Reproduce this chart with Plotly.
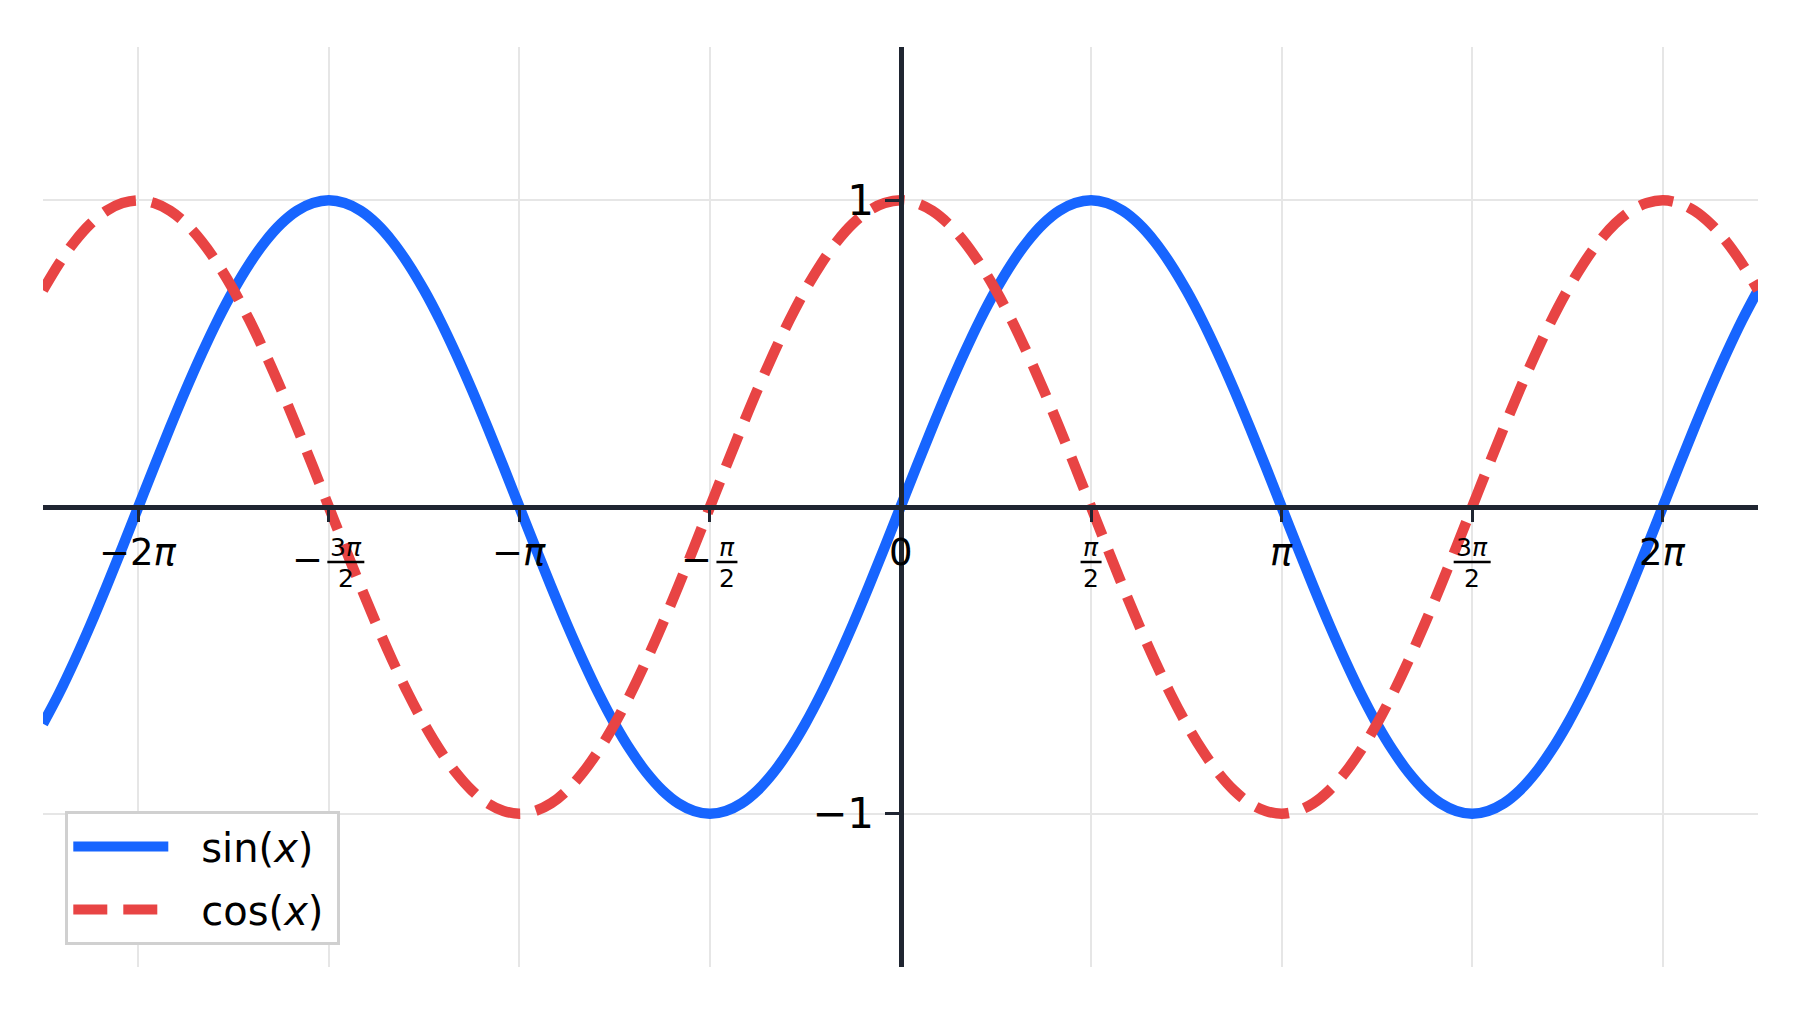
import numpy as np
import plotly.graph_objects as go

# sample positions in steps of pi/24, from -2.25pi to 2.25pi
x_steps = list(range(-54, 55))
x_vals = [k * np.pi / 24 for k in x_steps]

# values at each pi/24 step
sin_vals = [-0.707, -0.609, -0.5, -0.383, -0.259, -0.131,
            0, 0.131, 0.259, 0.383, 0.5, 0.609, 0.707, 0.793, 0.866, 0.924, 0.966, 0.991,
            1, 0.991, 0.966, 0.924, 0.866, 0.793, 0.707, 0.609, 0.5, 0.383, 0.259, 0.131,
            0, -0.131, -0.259, -0.383, -0.5, -0.609, -0.707, -0.793, -0.866, -0.924, -0.966, -0.991,
            -1, -0.991, -0.966, -0.924, -0.866, -0.793, -0.707, -0.609, -0.5, -0.383, -0.259, -0.131,
            0, 0.131, 0.259, 0.383, 0.5, 0.609, 0.707, 0.793, 0.866, 0.924, 0.966, 0.991,
            1, 0.991, 0.966, 0.924, 0.866, 0.793, 0.707, 0.609, 0.5, 0.383, 0.259, 0.131,
            0, -0.131, -0.259, -0.383, -0.5, -0.609, -0.707, -0.793, -0.866, -0.924, -0.966, -0.991,
            -1, -0.991, -0.966, -0.924, -0.866, -0.793, -0.707, -0.609, -0.5, -0.383, -0.259, -0.131,
            0, 0.131, 0.259, 0.383, 0.5, 0.609, 0.707]
cos_vals = [0.707, 0.793, 0.866, 0.924, 0.966, 0.991,
            1, 0.991, 0.966, 0.924, 0.866, 0.793, 0.707, 0.609, 0.5, 0.383, 0.259, 0.131,
            0, -0.131, -0.259, -0.383, -0.5, -0.609, -0.707, -0.793, -0.866, -0.924, -0.966, -0.991,
            -1, -0.991, -0.966, -0.924, -0.866, -0.793, -0.707, -0.609, -0.5, -0.383, -0.259, -0.131,
            0, 0.131, 0.259, 0.383, 0.5, 0.609, 0.707, 0.793, 0.866, 0.924, 0.966, 0.991,
            1, 0.991, 0.966, 0.924, 0.866, 0.793, 0.707, 0.609, 0.5, 0.383, 0.259, 0.131,
            0, -0.131, -0.259, -0.383, -0.5, -0.609, -0.707, -0.793, -0.866, -0.924, -0.966, -0.991,
            -1, -0.991, -0.966, -0.924, -0.866, -0.793, -0.707, -0.609, -0.5, -0.383, -0.259, -0.131,
            0, 0.131, 0.259, 0.383, 0.5, 0.609, 0.707, 0.793, 0.866, 0.924, 0.966, 0.991,
            1, 0.991, 0.966, 0.924, 0.866, 0.793, 0.707]

x_tick_mult = [-2, -1.5, -1, -0.5, 0, 0.5, 1, 1.5, 2]
x_tick_labels = ["−2π", "−3π/2", "−π", "−π/2", "0", "π/2", "π", "3π/2", "2π"]
y_tick_vals = [-1, 1]
y_tick_labels = ["−1", "1"]

BLUE = "#1765ff"
RED = "#e84444"
DARK = "#1f2531"
GRID = "#e6e6e6"
FONT = "DejaVu Sans"

fig = go.Figure()
fig.add_trace(go.Scatter(x=x_vals, y=sin_vals, mode="lines",
                         name="\u2002\u2009sin(<i>x</i>)\u2009",
                         legendgroup="a",
                         line=dict(color=BLUE, width=10.5, shape="spline")))
fig.add_trace(go.Scatter(x=x_vals, y=cos_vals, mode="lines",
                         name="\u2002\u2009cos(<i>x</i>)\u2009",
                         legendgroup="b",
                         line=dict(color=RED, width=10.5, shape="spline", dash="34px,16px")))

tick_x = [m * np.pi for m in x_tick_mult]

# x tick labels as annotations (fractions built from numerator, bar, denominator)
annots = []
shapes = []
for tx, lab in zip(tick_x, x_tick_labels):
    if "/" not in lab:
        txt = lab.replace("π", "<i>π</i>")
        annots.append(dict(x=tx, y=0, xref="x", yref="y", text=txt, showarrow=False,
                           xanchor="center", yanchor="middle", yshift=-45,
                           font=dict(family=FONT, size=37, color="black")))
        continue
    neg = lab.startswith("−")
    num, den = lab.lstrip("−").split("/")
    w = 21 if len(num) == 1 else 37
    s = 17 if neg else 0
    annots.append(dict(x=tx, y=0, xref="x", yref="y", text=num.replace("π", "<i>π</i>"),
                       showarrow=False, xanchor="center", yanchor="middle",
                       xshift=s, yshift=-40, font=dict(family=FONT, size=25, color="black")))
    annots.append(dict(x=tx, y=0, xref="x", yref="y", text=den,
                       showarrow=False, xanchor="center", yanchor="middle",
                       xshift=s, yshift=-71, font=dict(family=FONT, size=25, color="black")))
    shapes.append(dict(type="line", xref="x", yref="y", xsizemode="pixel", ysizemode="pixel",
                       xanchor=tx, yanchor=0, x0=s - w / 2, x1=s + w / 2, y0=-55, y1=-55,
                       line=dict(color="black", width=2.5)))
    if neg:
        annots.append(dict(x=tx, y=0, xref="x", yref="y", text="−", showarrow=False,
                           xanchor="right", yanchor="middle",
                           xshift=s - w / 2 - 2, yshift=-52,
                           font=dict(family=FONT, size=37, color="black")))

xr = 27 * np.pi / 12
# page body has an 8px margin, so the figure is 8px smaller than the window
fig.update_layout(
    width=1792, height=1004,
    margin=dict(l=35, r=42, t=39, b=45),
    paper_bgcolor="white", plot_bgcolor="white",
    font=dict(family=FONT, color="black"),
    annotations=annots, shapes=shapes,
    showlegend=True,
    legend=dict(x=0.013, y=0.024, xanchor="left", yanchor="bottom",
                bgcolor="white", bordercolor="#d0d0d0", borderwidth=3,
                font=dict(family=FONT, size=40, color="black"),
                itemwidth=95, tracegroupgap=8, traceorder="grouped"),
    xaxis=dict(range=[-xr, xr], anchor="free", position=0.5,
               showline=True, linecolor=DARK, linewidth=5,
               tickvals=tick_x, showticklabels=False,
               ticks="outside", ticklen=12, tickwidth=3, tickcolor=DARK,
               showgrid=True, gridcolor=GRID, gridwidth=2, zeroline=False),
    yaxis=dict(range=[-1.5, 1.5], anchor="free", position=0.5,
               showline=True, linecolor=DARK, linewidth=5,
               tickvals=y_tick_vals, ticktext=y_tick_labels,
               tickfont=dict(family=FONT, size=42, color="black"),
               ticks="outside", ticklen=14, tickwidth=3, tickcolor=DARK,
               ticklabelstandoff=2,
               showgrid=True, gridcolor=GRID, gridwidth=2, zeroline=False),
)

fig.write_html("out.html")
